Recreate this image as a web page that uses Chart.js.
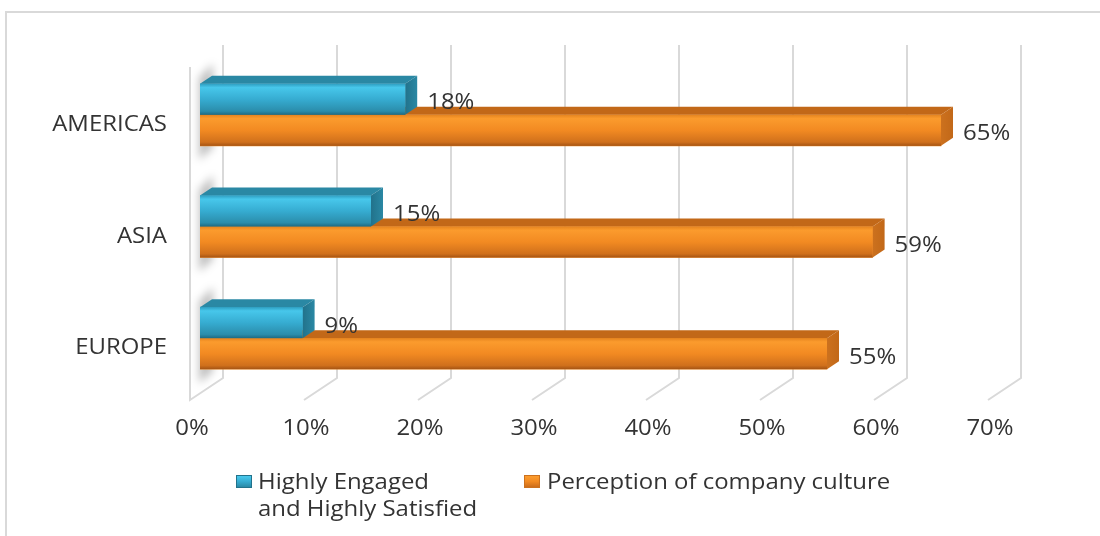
<!DOCTYPE html>
<html>
<head>
<meta charset="utf-8">
<script src="https://cdn.jsdelivr.net/npm/chart.js@4.4.1/dist/chart.umd.min.js"></script>
<style>
  html, body { margin: 0; padding: 0; background: #fff; }
  #chartContainer { position: relative; width: 1100px; height: 536px; }
</style>
</head>
<body>
<div id="chartContainer"><canvas id="chart" width="1100" height="536"></canvas></div>
<script>
const regions = ["AMERICAS", "ASIA", "EUROPE"];
const engaged = [18, 15, 9];
const culture = [65, 59, 55];
const xTicks = [0, 10, 20, 30, 40, 50, 60, 70];
const seriesNames = ["Highly Engaged\nand Highly Satisfied", "Perception of company culture"];

const FONT = '21px "Open Sans", Lato, sans-serif';
const STRETCH = 1.14;              // text is drawn a little wide
const TEXT = "#333333";
const GRID = "#d9d9d9";
const BEVEL_X = 12, BEVEL_Y = 8;   // depth of each 3d bar
const WALL_X = 33, WALL_Y = 22;    // depth of the back wall

const looks = [
  {
    flat: "#36abd0", top: "#2a88a4", side: "#22728b",
    stops: [[0, "#2f9fc2"], [0.12, "#47c7eb"], [0.5, "#36acd1"], [0.88, "#2b8dab"], [1, "#1d6a82"]],
  },
  {
    flat: "#f28a22", top: "#c26818", side: "#cc711e",
    stops: [[0, "#e5841f"], [0.12, "#fb9b2d"], [0.5, "#f28a22"], [0.88, "#d0701c"], [1, "#a55414"]],
  },
];

function poly(ctx, pts, fill) {
  ctx.beginPath();
  ctx.moveTo(pts[0][0], pts[0][1]);
  for (let i = 1; i < pts.length; i++) ctx.lineTo(pts[i][0], pts[i][1]);
  ctx.closePath();
  ctx.fillStyle = fill;
  ctx.fill();
}

function frontGradient(ctx, top, bottom, stops) {
  const g = ctx.createLinearGradient(0, top, 0, bottom);
  stops.forEach(([o, c]) => g.addColorStop(o, c));
  return g;
}

// text on the alphabetic baseline, widened by STRETCH
function wideText(ctx, text, x, y, align) {
  ctx.save();
  ctx.translate(x, y);
  ctx.scale(STRETCH, 1);
  ctx.font = FONT;
  ctx.fillStyle = TEXT;
  ctx.textAlign = align;
  ctx.textBaseline = "alphabetic";
  ctx.fillText(text, 0, 0);
  ctx.restore();
}

const wallPlugin = {
  id: "wall",
  // back wall, floor lines, left wall edge and the bar shadows
  beforeDatasetsDraw(chart) {
    const { ctx, chartArea, scales: { x } } = chart;
    const backTop = chartArea.top - 14;
    const backBottom = chartArea.bottom - 16;
    ctx.save();
    ctx.strokeStyle = GRID;
    ctx.lineWidth = 2;
    x.ticks.forEach((t) => {
      const bx = x.getPixelForValue(t.value) + WALL_X - 10;
      ctx.beginPath();
      ctx.moveTo(bx, backTop);
      ctx.lineTo(bx, backBottom);
      ctx.lineTo(bx - WALL_X, backBottom + WALL_Y);
      if (t.value === 0) ctx.lineTo(bx - WALL_X, backTop + WALL_Y);
      ctx.stroke();
    });

    const m0 = chart.getDatasetMeta(0), m1 = chart.getDatasetMeta(1);
    ctx.filter = "blur(4px)";
    m0.data.forEach((b, i) => {
      const o = m1.data[i];
      const top = b.y - b.height / 2, bottom = o.y + o.height / 2;
      poly(ctx, [
        [b.base - 1, top - 6], [b.base + 13, top - 20],
        [b.base + 13, bottom + 2], [b.base - 1, bottom + 14],
      ], "rgba(0,0,0,0.25)");
    });
    ctx.restore();
  },

  afterDatasetsDraw(chart) {
    const { ctx, scales: { x, y } } = chart;
    const metas = [chart.getDatasetMeta(0), chart.getDatasetMeta(1)];
    ctx.save();
    // top and end faces, lower series first so the upper bar covers it
    [1, 0].forEach((d) => {
      metas[d].data.forEach((el) => {
        const top = el.y - el.height / 2, bottom = el.y + el.height / 2;
        poly(ctx, [[el.base, top], [el.x, top], [el.x + BEVEL_X, top - BEVEL_Y], [el.base + BEVEL_X, top - BEVEL_Y]], looks[d].top);
        const sg = ctx.createLinearGradient(el.x, 0, el.x + BEVEL_X, 0);
        sg.addColorStop(0, looks[d].side);
        sg.addColorStop(1, looks[d].top);
        poly(ctx, [[el.x, top], [el.x + BEVEL_X, top - BEVEL_Y], [el.x + BEVEL_X, bottom - BEVEL_Y], [el.x, bottom]], sg);
      });
    });
    // front faces
    [1, 0].forEach((d) => {
      metas[d].data.forEach((el) => {
        const top = el.y - el.height / 2, bottom = el.y + el.height / 2;
        ctx.fillStyle = frontGradient(ctx, top, bottom, looks[d].stops);
        ctx.fillRect(el.base, top, el.x - el.base, bottom - top);
      });
    });
    ctx.restore();

    // value labels
    metas.forEach((meta, d) => {
      const values = chart.data.datasets[d].data;
      meta.data.forEach((el, i) => wideText(ctx, values[i] + "%", el.x + 22, el.y + 10, "left"));
    });

    // axis labels
    y.ticks.forEach((t, i) => wideText(ctx, chart.data.labels[t.value], 167, y.getPixelForTick(i) + 16, "right"));
    x.ticks.forEach((t, i) => wideText(ctx, t.value + "%", x.getPixelForTick(i) - 8, 435, "center"));
  },

  afterDraw(chart) {
    const { ctx } = chart;
    ctx.save();
    // outer frame
    ctx.strokeStyle = GRID;
    ctx.lineWidth = 2;
    ctx.strokeRect(6, 12, 1110, 540);

    // legend
    const spots = [{ x: 236, text: 258 }, { x: 524, text: 547 }];
    chart.data.datasets.forEach((ds, d) => {
      const s = spots[d];
      ctx.fillStyle = frontGradient(ctx, 475, 488, looks[d].stops);
      ctx.fillRect(s.x, 475, 16, 13);
      ctx.strokeStyle = looks[d].side;
      ctx.lineWidth = 1;
      ctx.strokeRect(s.x + 0.5, 475.5, 15, 12);
      ds.label.split("\n").forEach((line, k) => wideText(ctx, line, s.text, 489 + k * 27, "left"));
    });
    ctx.restore();
  },
};

new Chart(document.getElementById("chart"), {
  type: "bar",
  data: {
    labels: regions,
    datasets: [
      { label: seriesNames[0], data: engaged, backgroundColor: looks[0].flat },
      { label: seriesNames[1], data: culture, backgroundColor: looks[1].flat },
    ],
  },
  options: {
    indexAxis: "y",
    responsive: false,
    animation: false,
    barThickness: 31,
    layout: { padding: { top: 59, right: 102, bottom: 82, left: 0 } },
    scales: {
      x: {
        min: 0,
        max: 70,
        afterFit: (scale) => { scale.height = 60; },
        afterBuildTicks: (scale) => { scale.ticks = xTicks.map((v) => ({ value: v })); },
        grid: { display: false, drawTicks: false },
        border: { display: false },
        ticks: { display: false },
      },
      y: {
        afterFit: (scale) => { scale.width = 200; },
        grid: { display: false, drawTicks: false },
        border: { display: false },
        ticks: { display: false },
      },
    },
    plugins: {
      legend: { display: false },
      tooltip: { enabled: false },
    },
  },
  plugins: [wallPlugin],
});
</script>
</body>
</html>
